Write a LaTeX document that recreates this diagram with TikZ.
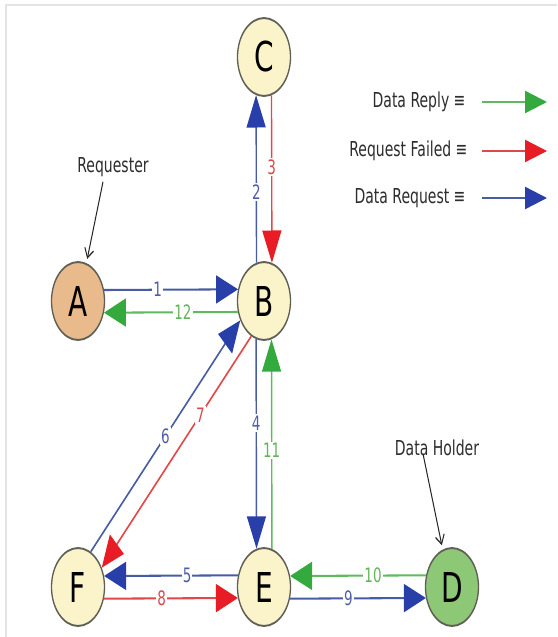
\documentclass[tikz,border=0pt]{standalone}
\usepackage{fontspec}
\setmainfont{DejaVu Sans}
\usetikzlibrary{arrows.meta}

\definecolor{bline}{RGB}{72,92,165}
\definecolor{bhead}{RGB}{40,62,168}
\definecolor{btext}{RGB}{80,95,165}
\definecolor{rline}{RGB}{226,72,72}
\definecolor{rhead}{RGB}{232,28,36}
\definecolor{rtext}{RGB}{215,75,75}
\definecolor{gline}{RGB}{95,185,95}
\definecolor{ghead}{RGB}{52,170,62}
\definecolor{gtext}{RGB}{100,180,90}
\definecolor{cream}{RGB}{251,244,203}
\definecolor{tan}{RGB}{233,186,140}
\definecolor{leaf}{RGB}{140,200,118}
\definecolor{rim}{RGB}{95,95,85}
\definecolor{ink}{RGB}{45,45,45}
\definecolor{frame}{RGB}{228,228,228}

\begin{document}
\begin{tikzpicture}[x=1pt,y=-1pt]
  \useasboundingbox (0,0) rectangle (557,637);
  \fill[white] (0,0) rectangle (557,637);
  % thin frame along the top and left edges
  \draw[frame,line width=2pt] (5,5) -- (557,5);
  \draw[frame,line width=2pt] (6,5) -- (6,637);

  % the whole graph is drawn unstretched and then stretched vertically
  \begin{scope}[transform canvas={yscale=1.47}, x=1pt, y=-0.680272pt,
    station/.style={circle, draw=rim, line width=1.3pt, minimum size=53pt,
      inner sep=0pt, font=\fontsize{28}{30}\selectfont},
    lab/.style={fill=white, inner sep=1pt, font=\fontsize{13.5}{15}\selectfont},
    note/.style={text=ink, font=\fontsize{14}{16}\selectfont},
    bl/.style={draw=bline, line width=1.4pt, -{Triangle[length=22pt,width=19pt,color=bhead]}},
    rd/.style={draw=rline, line width=1.4pt, -{Triangle[length=22pt,width=19pt,color=rhead]}},
    gr/.style={draw=gline, line width=1.4pt, -{Triangle[length=22pt,width=19pt,color=ghead]}},
    pointer/.style={draw=black!85, line width=1pt, shorten >=3pt,
      -{Straight Barb[length=6pt,width=9pt]}}]

    % stations
    \node[station, fill=cream] (C) at (264,57)  {C};
    \node[station, fill=tan]   (A) at (78,301)  {A};
    \node[station, fill=cream] (B) at (264,301) {B};
    \node[station, fill=cream] (F) at (78,587)  {F};
    \node[station, fill=cream] (E) at (264,587) {E};
    \node[station, fill=leaf]  (D) at (452,587) {D};

    % role notes
    \node[note] (req) at (113,167) {Requester};
    \node[note] (dh)  at (437,448) {Data Holder};
    \draw[pointer] ([xshift=-10pt]req.south) -- (A.72);
    \draw[pointer] ([xshift=-14pt,yshift=5pt]dh.south) -- (D.110);

    % message flow
    \draw[bl] (A.16.5)  -- node[lab,text=btext,pos=.40] {1}  (B.163.5);
    \draw[bl] (B.106.5) -- node[lab,text=btext,pos=.42] {2}  (C.253.5);
    \draw[rd] (C.286.5) -- node[lab,text=rtext,pos=.43] {3}  (B.73.5);
    \draw[bl] (B.253.5) -- node[lab,text=btext,pos=.40] {4}  (E.106.5);
    \draw[bl] (E.163.5) -- node[lab,text=btext,pos=.38] {5}  (F.16.5);
    \draw[bl] (F.62.8)  -- node[lab,text=btext,pos=.50] {6}  (B.209.8);
    \draw[rd] (B.242.8) -- node[lab,text=rtext,pos=.34] {7}  (F.29.8);
    \draw[rd] (F.343.5) -- node[lab,text=rtext,pos=.43] {8}  (E.196.5);
    \draw[bl] (E.343.5) -- node[lab,text=btext,pos=.43] {9}  (D.196.5);
    \draw[gr] (D.163.5) -- node[lab,text=gtext,pos=.39] {10} (E.16.5);
    \draw[gr] (E.73.5)  -- node[lab,text=gtext,pos=.47] {11} (B.286.5);
    \draw[gr] (B.196.5) -- node[lab,text=gtext,pos=.41] {12} (A.343.5);

    % legend
    \node[note, anchor=east] (k1) at (469,102) {Data Reply ≡};
    \node[note, anchor=east] (k2) at (471,151) {Request Failed ≡};
    \node[note, anchor=east] (k3) at (469,198) {Data Request ≡};
    \coordinate (t1) at (547,102);
    \coordinate (t2) at (547,151);
    \coordinate (t3) at (547,198);
    \draw[gr, -{Triangle[length=22pt,width=15pt,color=ghead]}] ([xshift=13pt]k1.east) -- (t1);
    \draw[rd, -{Triangle[length=22pt,width=15pt,color=rhead]}] ([xshift=11pt]k2.east) -- (t2);
    \draw[bl, -{Triangle[length=22pt,width=15pt,color=bhead]}] ([xshift=13pt]k3.east) -- (t3);
  \end{scope}
\end{tikzpicture}
\end{document}
